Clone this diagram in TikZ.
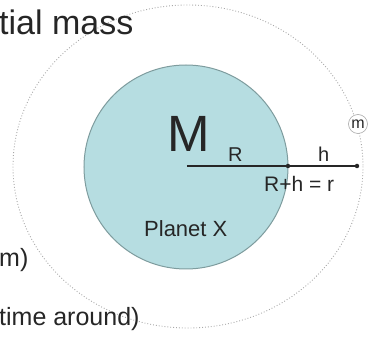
\documentclass[tikz,border=0pt]{standalone}
\usepackage{fontspec}
\setmainfont{Liberation Sans}
\definecolor{txt}{HTML}{262626}
\definecolor{planetfill}{HTML}{B6DDE1}
\definecolor{planetedge}{HTML}{7E9C9E}
\definecolor{orbit}{HTML}{A8A8A8}
\begin{document}
\begin{tikzpicture}[x=1pt,y=-1pt,
  lbl/.style={inner sep=0pt,anchor=base west,text=txt},
  dotnode/.style={circle,fill=txt,inner sep=0pt,minimum size=4.5pt},
  radline/.style={draw=txt,line width=1.1pt}]
\useasboundingbox (0,0) rectangle (368,337);
% orbit
\draw[orbit,dotted,line width=0.9pt] (188,166.5) ellipse [x radius=175, y radius=161.5];
% planet
\node[circle,draw=planetedge,fill=planetfill,line width=1pt,minimum size=204pt,inner sep=0pt] (planet) at (186,167) {};
% small mass
\node[circle,draw=orbit,fill=white,line width=0.6pt,minimum size=19pt,inner sep=0pt,text=txt,font=\fontsize{16}{16}\selectfont] (mass) at (358,124) {m};
% radius line
\coordinate (c) at (187,166);
\node[dotnode] (d1) at (288,166) {};
\node[dotnode] (d2) at (357,166) {};
\draw[radline] (c) -- (d1) -- (d2);
% labels
\node[lbl,font=\fontsize{34}{38}\selectfont] (t1) at (-1,35) {tial mass};
\node[lbl,font=\fontsize{51}{56}\selectfont] (M) at (167,152) {M};
\node[lbl,font=\fontsize{20}{22}\selectfont] (R) at (228,162) {R};
\node[lbl,font=\fontsize{20}{22}\selectfont] (h) at (318,162) {h};
\node[lbl,font=\fontsize{21}{24}\selectfont] (Rh) at (264,192) {R+h = r};
\node[lbl,font=\fontsize{22}{24}\selectfont] (px) at (144,237) {Planet X};
\node[lbl,font=\fontsize{25}{28}\selectfont] (m2) at (-1,267) {m)};
\node[lbl,font=\fontsize{25}{28}\selectfont] (ta) at (-1,326) {time around)};
\end{tikzpicture}
\end{document}
